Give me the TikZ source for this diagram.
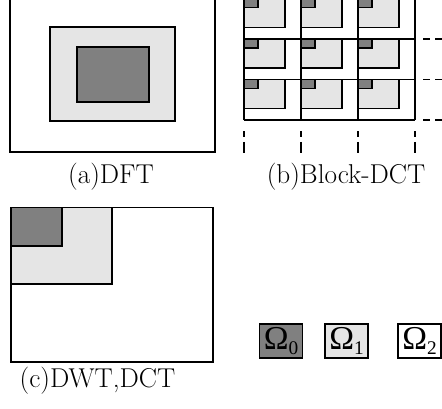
\documentclass[tikz,border=0pt]{standalone}
\usepackage{amsmath}
\usepackage{xcolor}
\usepackage{fontspec}
\usepackage{tikz}
\newfontfamily\omegafont{Liberation Serif}

\begin{document}
\begin{tikzpicture}[line width=1pt,
        caption/.style={font=\fontsize{15.5}{18}\selectfont},
        band/.style={draw, minimum width=0.86cm, minimum height=0.68cm, inner sep=0pt,
            font=\omegafont\fontsize{19}{22}\selectfont}]
        \useasboundingbox (0,0) rectangle (8.84,8.16);

        % (a) DFT
        \draw (0.2,5.12) rectangle (4.3,8.2);
        \filldraw[fill=gray!20] (1,5.74) rectangle (3.5,7.62);
        \filldraw[fill=gray] (1.54,6.12) rectangle (2.98,7.22);
        \node[caption] (capA) at (2.22,4.62) {(a)DFT};

        % (b) Block-DCT
        \foreach \i in {0,1,2} {
            \foreach \j in {0,1,2} {
                \filldraw[fill=gray!20, line width=0.8pt] (4.88+1.14*\i,8.19-0.81*\j) rectangle ++(0.82,-0.58);
                \filldraw[fill=gray, line width=0.8pt] (4.88+1.14*\i,8.19-0.81*\j) rectangle ++(0.28,-0.18);
            }
        }
        \foreach \x in {4.88, 6.02, 7.16, 8.3} {
            \draw (\x,5.76) -- (\x,8.3);
            \draw[dash pattern=on 3.4pt off 2.8pt on 6.2pt off 10pt] (\x,5.54) -- (\x,5.1);
        }
        \foreach \y in {7.38, 6.57, 5.76} {
            \draw (4.88,\y) -- (8.3,\y);
            \draw[dash pattern=on 4pt off 3pt] (8.46,\y) -- (8.95,\y);
        }
        \node[caption] (capB) at (6.92,4.62) {(b)Block-DCT};

        % (c) DWT, DCT
        \draw (0.22,0.92) rectangle (4.26,4.01);
        \filldraw[fill=gray!20] (0.22,2.48) rectangle (2.24,4.01);
        \filldraw[fill=gray] (0.22,3.24) rectangle (1.24,4.01);
        \node[caption] (capC) at (1.95,0.54) {(c)DWT,DCT};

        % legend
        \node[band, fill=gray] (om0) at (5.62,1.34) {Ω\raisebox{-0.37ex}{\fontsize{11}{13}\selectfont 0}};
        \node[band, fill=gray!20] (om1) at (6.93,1.34) {Ω\raisebox{-0.37ex}{\fontsize{11}{13}\selectfont 1}};
        \node[band, fill=white] (om2) at (8.39,1.34) {Ω\raisebox{-0.37ex}{\fontsize{11}{13}\selectfont 2}};
    \end{tikzpicture}
\end{document}
